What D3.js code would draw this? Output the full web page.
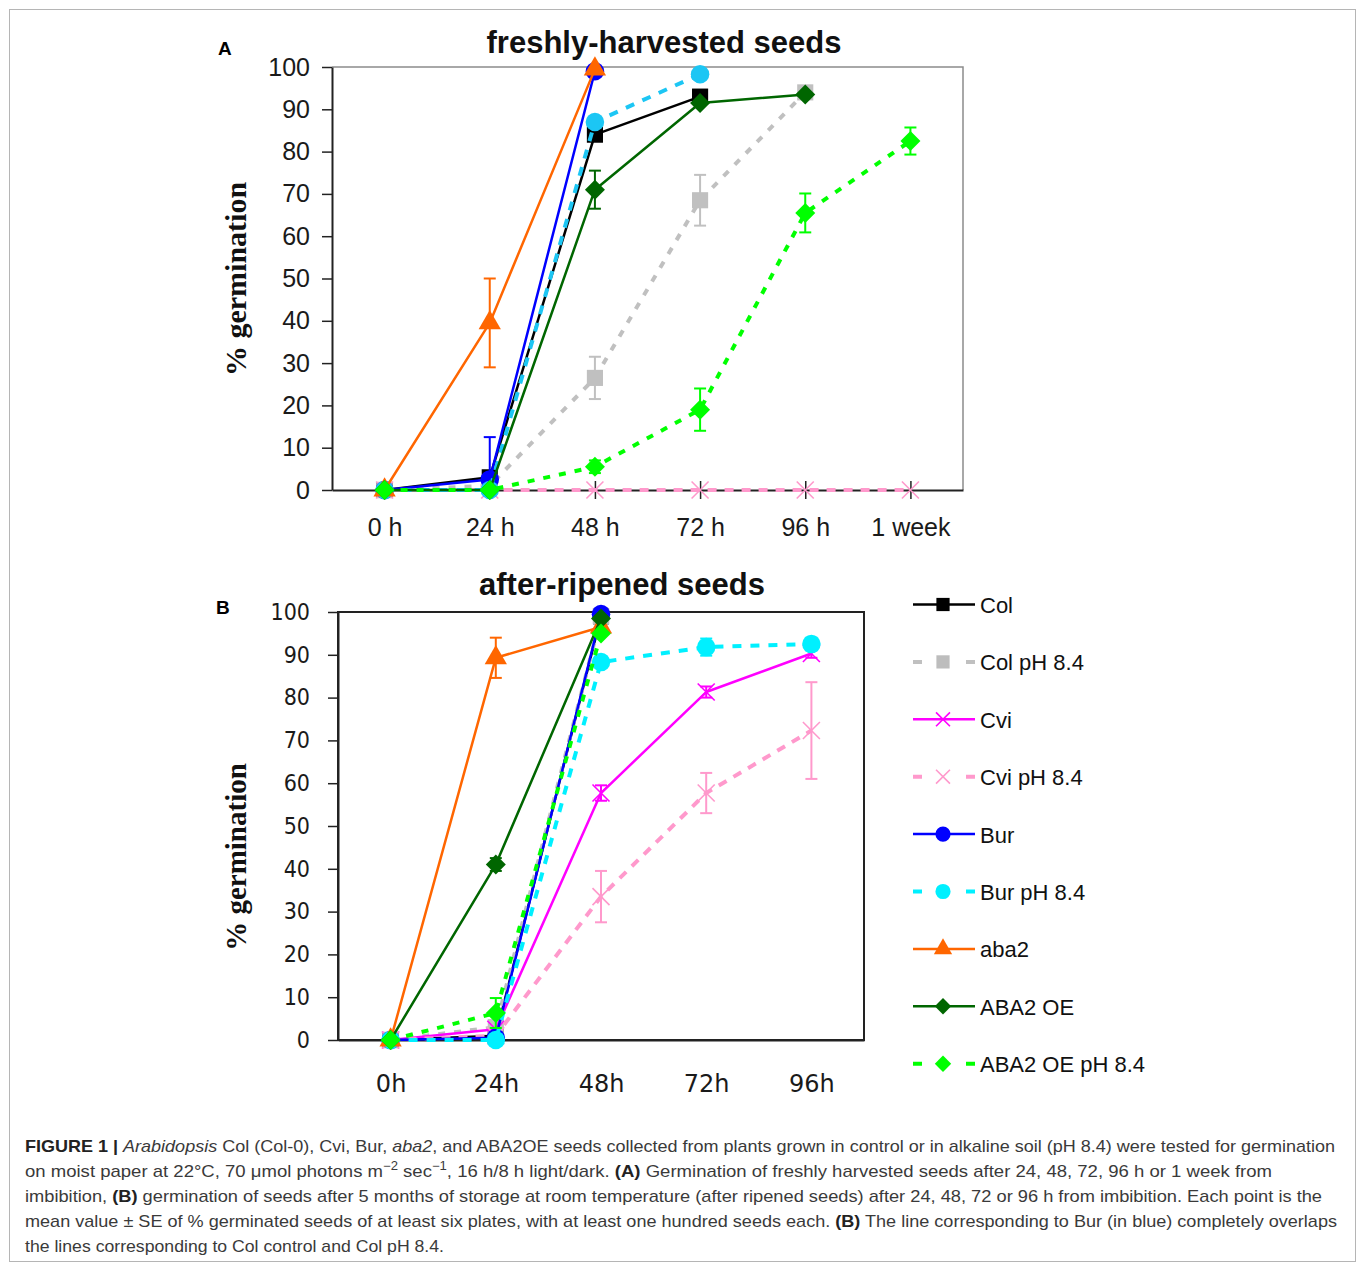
<!DOCTYPE html>
<html>
<head>
<meta charset="utf-8">
<script src="https://cdnjs.cloudflare.com/ajax/libs/d3/7.8.5/d3.min.js"></script>
<style>
  body { margin: 0; background: #fff; }
</style>
</head>
<body>
<svg id="fig" width="1358" height="1263"></svg>
<script>
// ---- data ----
var timesA = ["0 h", "24 h", "48 h", "72 h", "96 h", "1 week"];
var timesB = ["0h", "24h", "48h", "72h", "96h"];
var yTicks = [0, 10, 20, 30, 40, 50, 60, 70, 80, 90, 100];

var seriesNames = ["Col", "Col pH 8.4", "Cvi", "Cvi pH 8.4", "Bur", "Bur pH 8.4", "aba2", "ABA2 OE", "ABA2 OE pH 8.4"];

// A: freshly-harvested seeds (% germination, mean and SE)
var colA    = [0, 3, 84, 93, null, null];
var colPhA  = [0, 1, 26.5, 68.5, 94, null];
var cviA    = [null, null, null, null, null, null];
var cviPhA  = [0, 0, 0, 0, 0, 0];
var burA    = [0, 2.5, 99, null, null, null];
var burPhA  = [0, 0, 87, 98.3, null, null];
var aba2A   = [0, 39.5, 99.5, null, null, null];
var oeA     = [0, 0, 71, 91.5, 93.5, null];
var oePhA   = [0, 0, 5.5, 19, 65.5, 82.5];

var colSeA   = [0, 0, 0, 0, 0, 0];
var colPhSeA = [0, 0, 5, 6, 0, 0];
var cviSeA   = [0, 0, 0, 0, 0, 0];
var cviPhSeA = [0, 0, 0, 0, 0, 0];
var burSeA   = [0, 10, 0, 0, 0, 0];
var burPhSeA = [0, 0, 0, 0, 0, 0];
var aba2SeA  = [0, 10.5, 0, 0, 0, 0];
var oeSeA    = [0, 0, 4.5, 0, 0, 0];
var oePhSeA  = [0, 0, 1.5, 5, 4.6, 3.2];

// B: after-ripened seeds
var colB    = [0, 1, 99, null, null];
var colPhB  = [0, 3, 99, null, null];
var cviB    = [0, 2.5, 57.7, 81.3, 90.3];
var cviPhB  = [0, 1, 33.5, 57.7, 72.3];
var burB    = [0, 0.5, 99.5, null, null];
var burPhB  = [0, 0, 88.3, 91.8, 92.5];
var aba2B   = [0, 89.3, 96.5, null, null];
var oeB     = [0, 41, 98.5, null, null];
var oePhB   = [0, 6.3, 95, null, null];

var colSeB   = [0, 0, 0, 0, 0];
var colPhSeB = [0, 0, 0, 0, 0];
var cviSeB   = [0, 0, 1.8, 1.3, 1];
var cviPhSeB = [0, 0, 6, 4.7, 11.3];
var burSeB   = [0, 0, 0, 0, 0];
var burPhSeB = [0, 0, 0, 2, 1.5];
var aba2SeB  = [0, 4.7, 0, 0, 0];
var oeSeB    = [0, 1.5, 0, 0, 0];
var oePhSeB  = [0, 3.5, 0, 0, 0];

// ---- styles ----
var colorsA = ["#000000", "#c0c0c0", "#ff00ff", "#ff99cc", "#0000ff", "#1cc6f4", "#ff6600", "#006600", "#00ff00"];
var colorsB = ["#000000", "#c0c0c0", "#ff00ff", "#ff99cc", "#0000ff", "#00f0ff", "#ff6600", "#006600", "#00ff00"];
var markers = ["square", "square", "x", "x", "circle", "circle", "triangle", "diamond", "diamond"];
var dashes  = [null, "7,9", null, "9,8", null, "9,9", null, null, "7,9"];

var svg = d3.select("#fig");

// outer frame
svg.append("rect").attr("x", 9.5).attr("y", 9.5).attr("width", 1346).attr("height", 1252)
  .attr("fill", "none").attr("stroke", "#b5b5b5").attr("stroke-width", 1);

function markerPath(type, scale) {
  scale = scale || 1;
  if (type === "square") return d3.symbol(d3.symbolSquare, 260 * scale * scale)();
  if (type === "circle") return d3.symbol(d3.symbolCircle, 270 * scale * scale)();
  if (type === "triangle") return d3.symbol(d3.symbolTriangle, 215 * scale * scale)();
  if (type === "diamond") return d3.symbol(d3.symbolSquare, 200 * scale * scale)();
  var h = 8.5 * scale;
  return "M" + (-h) + "," + (-h) + "L" + h + "," + h + "M" + (-h) + "," + h + "L" + h + "," + (-h);
}

function drawMarker(g, type, color, x, y, scale) {
  var p = g.append("path").attr("d", markerPath(type, scale))
    .attr("transform", "translate(" + x + "," + y + ")" + (type === "diamond" ? " rotate(45)" : ""));
  if (type === "x") p.attr("fill", "none").attr("stroke", color).attr("stroke-width", 1.6);
  else p.attr("fill", color);
}

function drawPanel(cfg) {
  var x = d3.scalePoint().domain(cfg.times).range([cfg.left, cfg.right]).padding(0.5);
  var y = d3.scaleLinear().domain([0, 100]).range([cfg.bottom, cfg.top]);
  var g = svg.append("g");

  // frame
  if (cfg.boxed) {
    g.append("rect").attr("x", cfg.left).attr("y", cfg.top)
      .attr("width", cfg.right - cfg.left).attr("height", cfg.bottom - cfg.top)
      .attr("fill", "none").attr("stroke", "#222").attr("stroke-width", 2);
  } else {
    g.append("path").attr("d", "M" + cfg.left + "," + cfg.top + "H" + cfg.right + "V" + cfg.bottom)
      .attr("fill", "none").attr("stroke", "#8c8c8c").attr("stroke-width", 1.5);
  }

  // y axis
  var yAxis = g.append("g").attr("transform", "translate(" + cfg.left + ",0)")
    .call(d3.axisLeft(y).tickValues(yTicks).tickSize(10).tickSizeOuter(0).tickPadding(cfg.yPad));
  yAxis.select(".domain").attr("stroke", "#222").attr("stroke-width", 2);
  yAxis.selectAll(".tick line").attr("stroke", "#222").attr("stroke-width", 1.5);
  yAxis.selectAll(".tick text").attr("font-family", cfg.yFont).attr("font-size", cfg.yFontSize)
    .attr("fill", "#1a1a1a");

  // x axis
  var xAxis = g.append("g").attr("transform", "translate(0," + cfg.bottom + ")")
    .call(d3.axisBottom(x).tickSize(cfg.xTick).tickSizeOuter(0).tickPadding(cfg.xPad));
  xAxis.select(".domain").attr("stroke", "#222").attr("stroke-width", 2);
  xAxis.selectAll(".tick line").attr("y1", -cfg.xTick).attr("stroke", "#222").attr("stroke-width", 1.5);
  xAxis.selectAll(".tick text").attr("font-family", cfg.xFont).attr("font-size", cfg.xFontSize)
    .attr("fill", "#1a1a1a");

  // series
  cfg.values.forEach(function(vals, i) {
    var color = cfg.colors[i];
    var sg = g.append("g");
    var pts = vals.map(function(v, j) { return { t: cfg.times[j], v: v, se: cfg.se[i][j] }; });
    var line = d3.line().defined(function(d) { return d.v != null; })
      .x(function(d) { return x(d.t); }).y(function(d) { return y(d.v); });
    sg.append("path").datum(pts).attr("d", line).attr("fill", "none")
      .attr("stroke", color).attr("stroke-width", dashes[i] ? 4 : 2.5)
      .attr("stroke-dasharray", dashes[i]).attr("stroke-linejoin", "round");

    pts.forEach(function(d) {
      if (d.v == null || !d.se) return;
      var cx = x(d.t), hi = Math.min(100, d.v + d.se), lo = Math.max(0, d.v - d.se);
      sg.append("line").attr("x1", cx).attr("x2", cx).attr("y1", y(hi)).attr("y2", y(lo))
        .attr("stroke", color).attr("stroke-width", 2);
      [[hi, d.v + d.se <= 100], [lo, d.v - d.se >= 0]].forEach(function(c) {
        if (!c[1]) return;
        sg.append("line").attr("x1", cx - 6).attr("x2", cx + 6).attr("y1", y(c[0])).attr("y2", y(c[0]))
          .attr("stroke", color).attr("stroke-width", 2);
      });
    });
    pts.forEach(function(d) {
      if (d.v == null) return;
      drawMarker(sg, markers[i], color, x(d.t), y(d.v), 1);
    });
  });

  // title and labels
  svg.append("text").attr("x", cfg.titleX).attr("y", cfg.titleY).attr("text-anchor", "middle")
    .attr("font-family", "Liberation Sans, Arial, sans-serif").attr("font-weight", "bold")
    .attr("font-size", 31).attr("fill", "#111").text(cfg.title);
  svg.append("text").attr("transform", "translate(246," + cfg.labelY + ") rotate(-90)")
    .attr("text-anchor", "middle").attr("font-family", "Liberation Serif, Times New Roman, serif")
    .attr("font-weight", "bold").attr("font-size", cfg.labelSize).attr("fill", "#111").text("% germination");
  svg.append("text").attr("x", cfg.letterX).attr("y", cfg.letterY)
    .attr("font-family", "Liberation Sans, Arial, sans-serif").attr("font-weight", "bold")
    .attr("font-size", 19).attr("fill", "#000").text(cfg.letter);
}

drawPanel({
  times: timesA, left: 332, right: 963, top: 67, bottom: 490, boxed: false,
  values: [colA, colPhA, cviA, cviPhA, burA, burPhA, aba2A, oeA, oePhA],
  se: [colSeA, colPhSeA, cviSeA, cviPhSeA, burSeA, burPhSeA, aba2SeA, oeSeA, oePhSeA],
  colors: colorsA,
  yFont: "Liberation Sans, Arial, sans-serif", yFontSize: 25, yPad: 12,
  xFont: "Liberation Sans, Arial, sans-serif", xFontSize: 25, xTick: 9, xPad: 19,
  title: "freshly-harvested seeds", titleX: 664, titleY: 53,
  labelY: 279, labelSize: 30, letter: "A", letterX: 218, letterY: 55
});

drawPanel({
  times: timesB, left: 338, right: 864, top: 612, bottom: 1040, boxed: true,
  values: [colB, colPhB, cviB, cviPhB, burB, burPhB, aba2B, oeB, oePhB],
  se: [colSeB, colPhSeB, cviSeB, cviPhSeB, burSeB, burPhSeB, aba2SeB, oeSeB, oePhSeB],
  colors: colorsB,
  yFont: "DejaVu Sans Condensed, DejaVu Sans, sans-serif", yFontSize: 23, yPad: 18,
  xFont: "DejaVu Sans, Verdana, sans-serif", xFontSize: 24, xTick: 0, xPad: 35,
  title: "after-ripened seeds", titleX: 622, titleY: 595,
  labelY: 857, labelSize: 29, letter: "B", letterX: 216, letterY: 614
});

// legend
var legend = svg.append("g");
seriesNames.forEach(function(name, i) {
  var ly = 604.5 + i * 57.4;
  legend.append("line").attr("x1", 913).attr("x2", 975).attr("y1", ly).attr("y2", ly)
    .attr("stroke", colorsB[i]).attr("stroke-width", dashes[i] ? 4 : 2.5)
    .attr("stroke-dasharray", dashes[i] ? "9,44,9" : null);
  drawMarker(legend, markers[i], i === 1 ? "#bdbdbd" : colorsB[i], 943, ly, 0.82);
  legend.append("text").attr("x", 980).attr("y", ly + 8.5)
    .attr("font-family", "Liberation Sans, Arial, sans-serif").attr("font-size", 22)
    .attr("fill", "#111").text(name);
});

// caption
var captionLines = [
  [["FIGURE 1 | ", "b"], ["Arabidopsis", "i"], [" Col (Col-0), Cvi, Bur, ", ""], ["aba2", "i"],
   [", and ABA2OE seeds collected from plants grown in control or in alkaline soil (pH 8.4) were tested for germination", ""]],
  [["on moist paper at 22°C, 70 μmol photons m", ""], ["−2", "sup"], [" sec", "down"], ["−1", "sup"],
   [", 16 h/8 h light/dark. ", "down"], ["(A)", "b"], [" Germination of freshly harvested seeds after 24, 48, 72, 96 h or 1 week from", ""]],
  [["imbibition, ", ""], ["(B)", "b"], [" germination of seeds after 5 months of storage at room temperature (after ripened seeds) after 24, 48, 72 or 96 h from imbibition. Each point is the", ""]],
  [["mean value ± SE of % germinated seeds of at least six plates, with at least one hundred seeds each. ", ""], ["(B)", "b"],
   [" The line corresponding to Bur (in blue) completely overlaps", ""]],
  [["the lines corresponding to Col control and Col pH 8.4.", ""]]
];
var captionWidths = [1310, 1247, 1297, 1312, 419];

captionLines.forEach(function(segs, i) {
  var t = svg.append("text").attr("x", 25).attr("y", 1152 + i * 25)
    .attr("font-family", "Liberation Sans, Arial, sans-serif").attr("font-size", 17)
    .attr("fill", "#3a3a3a")
    .attr("textLength", captionWidths[i]).attr("lengthAdjust", "spacingAndGlyphs");
  segs.forEach(function(s) {
    var ts = t.append("tspan").text(s[0]);
    if (s[1] === "b") ts.attr("font-weight", "bold").attr("fill", "#222");
    if (s[1] === "i") ts.attr("font-style", "italic");
    if (s[1] === "sup") ts.attr("font-size", 12).attr("dy", -7);
    if (s[1] === "down") ts.attr("dy", 7);
  });
});
</script>
</body>
</html>
